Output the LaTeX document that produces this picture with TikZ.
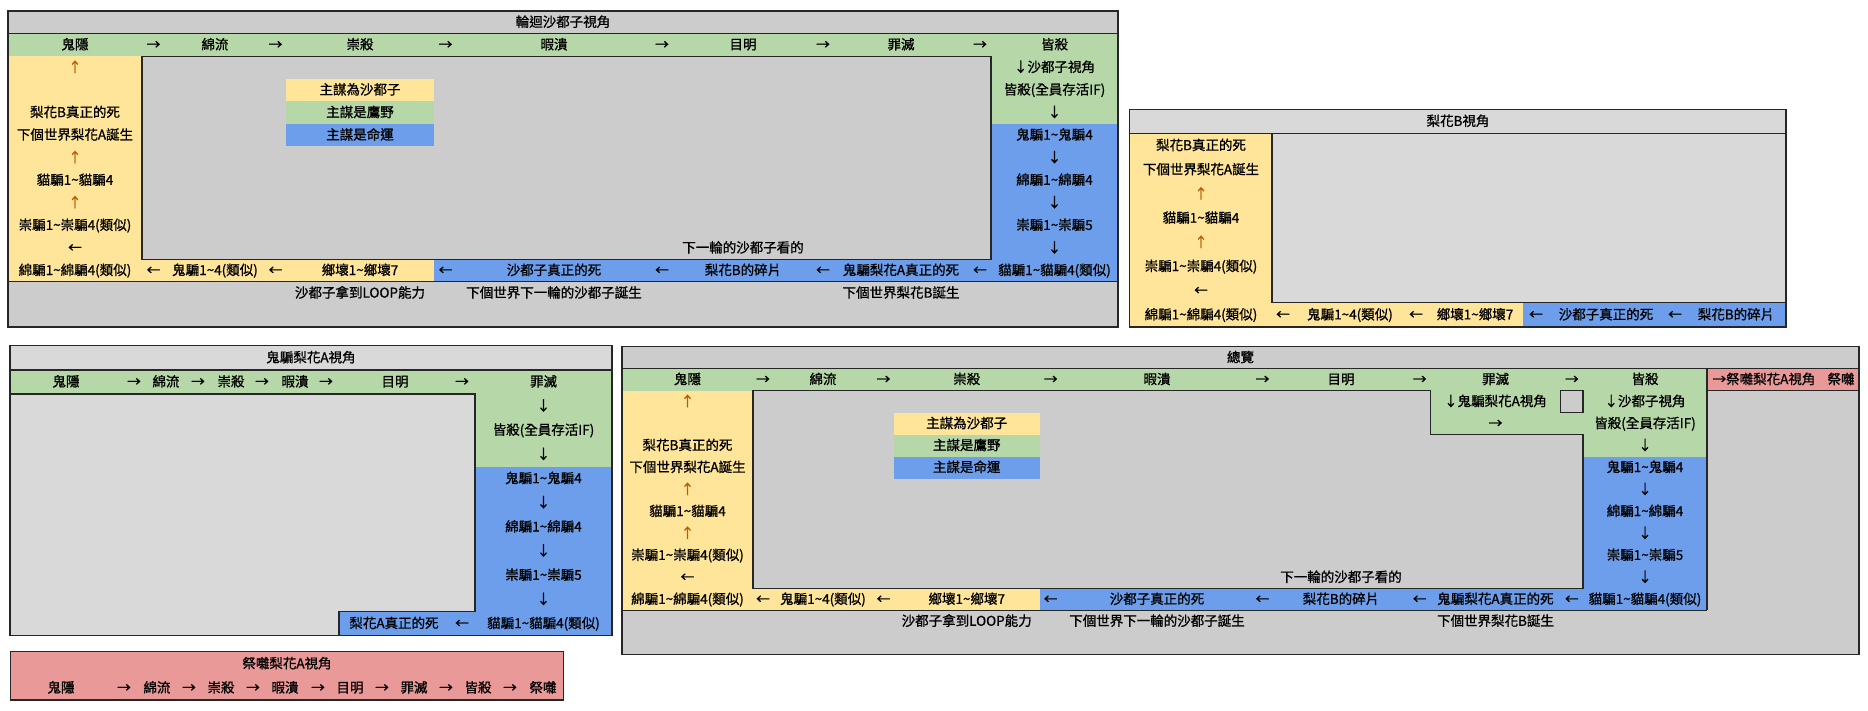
\documentclass[tikz,border=0pt]{standalone}
\usepackage{fontspec}
\setmainfont{Noto Sans CJK TC}[RawFeature={embolden=1.0}]
\usepackage{xcolor}
\usepackage{tikz}
\definecolor{cellyellow}{HTML}{FFE599}
\definecolor{cellgreen}{HTML}{B6D7A8}
\definecolor{cellblue}{HTML}{6D9EEB}
\definecolor{cellred}{HTML}{EA9999}
\definecolor{cellgray}{HTML}{CCCCCC}
\definecolor{celllight}{HTML}{D9D9D9}
\definecolor{arrowbrown}{HTML}{B45F06}
\newcommand{\tld}{\textasciitilde}

\begin{document}
\begin{tikzpicture}[x=1pt,y=-1pt,
  frame/.style={draw=black!85, line width=1.2pt},
  lbl/.style={inner sep=0pt, text height=10.5pt, text depth=1.5pt,
    font=\fontsize{13.5}{16}\selectfont},
  uparrow/.style={lbl, text=arrowbrown}]

\useasboundingbox (0,0) rectangle (1868,710);

% loop view
\fill[cellgray] (8,11) rectangle (1118,327);
\fill[cellgreen] (8,33.6) rectangle (1118,56.1);
\fill[cellgreen] (991,56.1) rectangle (1118,123.9);
\fill[cellblue] (991,123.9) rectangle (1118,281.8);
\fill[cellyellow] (8,56.1) rectangle (142,281.8);
\fill[cellyellow] (142,259.3) rectangle (434,281.8);
\fill[cellblue] (434,259.3) rectangle (991,281.8);
\fill[cellyellow] (286,78.7) rectangle (434,101.3);
\fill[cellgreen] (286,101.3) rectangle (434,123.9);
\fill[cellblue] (286,123.9) rectangle (434,146.4);
\draw[frame] (8,11) rectangle (1118,327);
\draw[frame] (8,33.6) -- (1118,33.6);
\draw[frame] (142,56.1) rectangle (991,259.3);
\draw[frame] (8,281.8) -- (1118,281.8);

\node[lbl] (lpT) at (563,22.3) {輪迴沙都子視角};
\node[lbl] (lpH1) at (75,44.9) {鬼隱};
\node[lbl] (lpH2) at (153.5,44.9) {→};
\node[lbl] (lpH3) at (215,44.9) {綿流};
\node[lbl] (lpH4) at (275.5,44.9) {→};
\node[lbl] (lpH5) at (360,44.9) {崇殺};
\node[lbl] (lpH6) at (445.5,44.9) {→};
\node[lbl] (lpH7) at (554,44.9) {暇潰};
\node[lbl] (lpH8) at (662,44.9) {→};
\node[lbl] (lpH9) at (743,44.9) {目明};
\node[lbl] (lpH10) at (823,44.9) {→};
\node[lbl] (lpH11) at (901,44.9) {罪滅};
\node[lbl] (lpH12) at (980,44.9) {→};
\node[lbl] (lpH13) at (1054.5,44.9) {皆殺};

\node[uparrow] (lpA1) at (75,67.4) {↑};
\node[lbl] (lpA2) at (75,112.6) {梨花B真正的死};
\node[lbl] (lpA3) at (75,135.1) {下個世界梨花A誕生};
\node[uparrow] (lpA4) at (75,157.7) {↑};
\node[lbl] (lpA5) at (75,180.3) {貓騙1\tld{}貓騙4};
\node[uparrow] (lpA6) at (75,202.8) {↑};
\node[lbl] (lpA7) at (75,225.4) {崇騙1\tld{}崇騙4(類似)};
\node[lbl] (lpA8) at (75,248) {←};
\node[lbl] (lpA9) at (75,270.5) {綿騙1\tld{}綿騙4(類似)};

\node[lbl] (lpG1) at (1054.5,67.4) {↓沙都子視角};
\node[lbl] (lpG2) at (1054.5,90) {皆殺(全員存活IF)};
\node[lbl] (lpG3) at (1054.5,112.6) {↓};
\node[lbl] (lpG4) at (1054.5,135.1) {鬼騙1\tld{}鬼騙4};
\node[lbl] (lpG5) at (1054.5,157.7) {↓};
\node[lbl] (lpG6) at (1054.5,180.3) {綿騙1\tld{}綿騙4};
\node[lbl] (lpG7) at (1054.5,202.8) {↓};
\node[lbl] (lpG8) at (1054.5,225.4) {崇騙1\tld{}崇騙5};
\node[lbl] (lpG9) at (1054.5,248) {↓};

\node[lbl] (lpK1) at (360,90) {主謀為沙都子};
\node[lbl] (lpK2) at (360,112.6) {主謀是鷹野};
\node[lbl] (lpK3) at (360,135.1) {主謀是命運};
\node[lbl] (lpN) at (743,248) {下一輪的沙都子看的};

\node[lbl] (lpB1) at (153.5,270.5) {←};
\node[lbl] (lpB2) at (215,270.5) {鬼騙1\tld{}4(類似)};
\node[lbl] (lpB3) at (275.5,270.5) {←};
\node[lbl] (lpB4) at (360,270.5) {鄉壞1\tld{}鄉壞7};
\node[lbl] (lpB5) at (445.5,270.5) {←};
\node[lbl] (lpB6) at (554,270.5) {沙都子真正的死};
\node[lbl] (lpB7) at (662,270.5) {←};
\node[lbl] (lpB8) at (743,270.5) {梨花B的碎片};
\node[lbl] (lpB9) at (823,270.5) {←};
\node[lbl] (lpB10) at (901,270.5) {鬼騙梨花A真正的死};
\node[lbl] (lpB11) at (980,270.5) {←};
\node[lbl] (lpB12) at (1054.5,270.5) {貓騙1\tld{}貓騙4(類似)};

\node[lbl] (lpC1) at (360,293.1) {沙都子拿到LOOP能力};
\node[lbl] (lpC2) at (554,293.1) {下個世界下一輪的沙都子誕生};
\node[lbl] (lpC3) at (901,293.1) {下個世界梨花B誕生};

% rika B view
\fill[celllight] (1129.5,109.3) rectangle (1786,327);
\fill[cellyellow] (1129.5,133.5) rectangle (1272,327);
\fill[cellyellow] (1272,302.8) rectangle (1523,327);
\fill[cellblue] (1523,302.8) rectangle (1786,327);
\draw[frame] (1129.5,109.3) rectangle (1786,327);
\draw[frame] (1129.5,133.5) -- (1786,133.5);
\draw[frame] (1272,133.5) -- (1272,302.8) -- (1786,302.8);

\node[lbl] (rbT) at (1458,121.4) {梨花B視角};
\node[lbl] (rbA1) at (1201,145.6) {梨花B真正的死};
\node[lbl] (rbA2) at (1201,169.8) {下個世界梨花A誕生};
\node[uparrow] (rbA3) at (1201,194) {↑};
\node[lbl] (rbA4) at (1201,218.2) {貓騙1\tld{}貓騙4};
\node[uparrow] (rbA5) at (1201,242.4) {↑};
\node[lbl] (rbA6) at (1201,266.5) {崇騙1\tld{}崇騙4(類似)};
\node[lbl] (rbA7) at (1201,290.7) {←};
\node[lbl] (rbA8) at (1201,314.9) {綿騙1\tld{}綿騙4(類似)};
\node[lbl] (rbB1) at (1283,314.9) {←};
\node[lbl] (rbB2) at (1350,314.9) {鬼騙1\tld{}4(類似)};
\node[lbl] (rbB3) at (1416,314.9) {←};
\node[lbl] (rbB4) at (1475,314.9) {鄉壞1\tld{}鄉壞7};
\node[lbl] (rbB5) at (1536,314.9) {←};
\node[lbl] (rbB6) at (1606,314.9) {沙都子真正的死};
\node[lbl] (rbB7) at (1675,314.9) {←};
\node[lbl] (rbB8) at (1736,314.9) {梨花B的碎片};

% rika A view
\fill[celllight] (10,345.7) rectangle (612,635.7);
\fill[cellgreen] (10,369.9) rectangle (612,394);
\fill[cellgreen] (475,394) rectangle (612,466.5);
\fill[cellblue] (475,466.5) rectangle (612,635.7);
\fill[cellblue] (339,611.5) rectangle (475,635.7);
\draw[frame] (10,345.7) rectangle (612,635.7);
\draw[frame] (10,369.9) -- (612,369.9);
\draw[frame] (10,394) -- (475,394) -- (475,611.5) -- (339,611.5) -- (339,635.7);

\node[lbl] (raT) at (311,357.8) {鬼騙梨花A視角};
\node[lbl] (raH1) at (66,382) {鬼隱};
\node[lbl] (raH2) at (134,382) {→};
\node[lbl] (raH3) at (166,382) {綿流};
\node[lbl] (raH4) at (198,382) {→};
\node[lbl] (raH5) at (231,382) {崇殺};
\node[lbl] (raH6) at (262,382) {→};
\node[lbl] (raH7) at (295,382) {暇潰};
\node[lbl] (raH8) at (326,382) {→};
\node[lbl] (raH9) at (395,382) {目明};
\node[lbl] (raH10) at (462,382) {→};
\node[lbl] (raH11) at (543.5,382) {罪滅};
\node[lbl] (raG1) at (543.5,406.1) {↓};
\node[lbl] (raG2) at (543.5,430.3) {皆殺(全員存活IF)};
\node[lbl] (raG3) at (543.5,454.5) {↓};
\node[lbl] (raG4) at (543.5,478.6) {鬼騙1\tld{}鬼騙4};
\node[lbl] (raG5) at (543.5,502.8) {↓};
\node[lbl] (raG6) at (543.5,527) {綿騙1\tld{}綿騙4};
\node[lbl] (raG7) at (543.5,551.1) {↓};
\node[lbl] (raG8) at (543.5,575.3) {崇騙1\tld{}崇騙5};
\node[lbl] (raG9) at (543.5,599.5) {↓};
\node[lbl] (raG10) at (543.5,623.6) {貓騙1\tld{}貓騙4(類似)};
\node[lbl] (raB1) at (462,623.6) {←};
\node[lbl] (raB2) at (394,623.6) {梨花A真正的死};

% matsuri view
\draw[frame,fill=cellred] (10.7,651.7) rectangle (563.5,700);
\node[lbl] (mtT) at (287,663.8) {祭囃梨花A視角};
\node[lbl] (mtH1) at (61,688) {鬼隱};
\node[lbl] (mtH2) at (124,688) {→};
\node[lbl] (mtH3) at (157,688) {綿流};
\node[lbl] (mtH4) at (189,688) {→};
\node[lbl] (mtH5) at (221,688) {崇殺};
\node[lbl] (mtH6) at (253,688) {→};
\node[lbl] (mtH7) at (285,688) {暇潰};
\node[lbl] (mtH8) at (318,688) {→};
\node[lbl] (mtH9) at (350,688) {目明};
\node[lbl] (mtH10) at (382,688) {→};
\node[lbl] (mtH11) at (414,688) {罪滅};
\node[lbl] (mtH12) at (446,688) {→};
\node[lbl] (mtH13) at (478,688) {皆殺};
\node[lbl] (mtH14) at (510,688) {→};
\node[lbl] (mtH15) at (543,688) {祭囃};

% overview
\fill[cellgray] (622,346.7) rectangle (1859,654.3);
\fill[cellgreen] (622,368.7) rectangle (1707,390.6);
\fill[cellred] (1707,368.7) rectangle (1859,390.6);
\fill[cellgreen] (1430.5,390.6) rectangle (1583,434.6);
\fill[cellgreen] (1583,390.6) rectangle (1707,456.5);
\fill[cellblue] (1583,456.5) rectangle (1707,610.3);
\fill[cellyellow] (622,390.6) rectangle (753,610.3);
\fill[cellyellow] (753,588.4) rectangle (1039.5,610.3);
\fill[cellblue] (1039.5,588.4) rectangle (1583,610.3);
\fill[cellyellow] (894,412.6) rectangle (1039.5,434.6);
\fill[cellgreen] (894,434.6) rectangle (1039.5,456.5);
\fill[cellblue] (894,456.5) rectangle (1039.5,478.5);
\draw[frame,fill=cellgray] (1560.6,390.6) rectangle (1583,412.6);
\draw[frame] (622,346.7) rectangle (1859,654.3);
\draw[frame] (622,368.7) -- (1859,368.7);
\draw[frame] (1707,390.6) -- (1859,390.6);
\draw[frame] (1707,368.7) -- (1707,610.3);
\draw[frame] (622,610.3) -- (1707,610.3);
\draw[frame] (753,390.6) -- (1430.5,390.6) -- (1430.5,434.6) -- (1583,434.6)
  -- (1583,588.4) -- (753,588.4) -- cycle;

\node[lbl] (ovT) at (1240.5,357.7) {總覽};
\node[lbl] (ovH1) at (687.5,379.6) {鬼隱};
\node[lbl] (ovH2) at (763,379.6) {→};
\node[lbl] (ovH3) at (823,379.6) {綿流};
\node[lbl] (ovH4) at (883.5,379.6) {→};
\node[lbl] (ovH5) at (966.7,379.6) {崇殺};
\node[lbl] (ovH6) at (1050.7,379.6) {→};
\node[lbl] (ovH7) at (1157,379.6) {暇潰};
\node[lbl] (ovH8) at (1262.5,379.6) {→};
\node[lbl] (ovH9) at (1341,379.6) {目明};
\node[lbl] (ovH10) at (1419.7,379.6) {→};
\node[lbl] (ovH11) at (1495.5,379.6) {罪滅};
\node[lbl] (ovH12) at (1571.8,379.6) {→};
\node[lbl] (ovH13) at (1645,379.6) {皆殺};
\node[lbl] (ovH14) at (1764,379.6) {→祭囃梨花A視角};
\node[lbl] (ovH15) at (1841,379.6) {祭囃};

\node[lbl] (ovF1) at (1495.5,401.6) {↓鬼騙梨花A視角};
\node[lbl] (ovF2) at (1495.5,423.6) {→};

\node[uparrow] (ovA1) at (687.5,401.6) {↑};
\node[lbl] (ovA2) at (687.5,445.6) {梨花B真正的死};
\node[lbl] (ovA3) at (687.5,467.5) {下個世界梨花A誕生};
\node[uparrow] (ovA4) at (687.5,489.5) {↑};
\node[lbl] (ovA5) at (687.5,511.5) {貓騙1\tld{}貓騙4};
\node[uparrow] (ovA6) at (687.5,533.4) {↑};
\node[lbl] (ovA7) at (687.5,555.4) {崇騙1\tld{}崇騙4(類似)};
\node[lbl] (ovA8) at (687.5,577.4) {←};
\node[lbl] (ovA9) at (687.5,599.4) {綿騙1\tld{}綿騙4(類似)};

\node[lbl] (ovG1) at (1645,401.6) {↓沙都子視角};
\node[lbl] (ovG2) at (1645,423.6) {皆殺(全員存活IF)};
\node[lbl] (ovG3) at (1645,445.6) {↓};
\node[lbl] (ovG4) at (1645,467.5) {鬼騙1\tld{}鬼騙4};
\node[lbl] (ovG5) at (1645,489.5) {↓};
\node[lbl] (ovG6) at (1645,511.5) {綿騙1\tld{}綿騙4};
\node[lbl] (ovG7) at (1645,533.4) {↓};
\node[lbl] (ovG8) at (1645,555.4) {崇騙1\tld{}崇騙5};
\node[lbl] (ovG9) at (1645,577.4) {↓};

\node[lbl] (ovK1) at (966.7,423.6) {主謀為沙都子};
\node[lbl] (ovK2) at (966.7,445.6) {主謀是鷹野};
\node[lbl] (ovK3) at (966.7,467.5) {主謀是命運};
\node[lbl] (ovN) at (1341,577.4) {下一輪的沙都子看的};

\node[lbl] (ovB1) at (763,599.4) {←};
\node[lbl] (ovB2) at (823,599.4) {鬼騙1\tld{}4(類似)};
\node[lbl] (ovB3) at (883.5,599.4) {←};
\node[lbl] (ovB4) at (966.7,599.4) {鄉壞1\tld{}鄉壞7};
\node[lbl] (ovB5) at (1050.7,599.4) {←};
\node[lbl] (ovB6) at (1157,599.4) {沙都子真正的死};
\node[lbl] (ovB7) at (1262.5,599.4) {←};
\node[lbl] (ovB8) at (1341,599.4) {梨花B的碎片};
\node[lbl] (ovB9) at (1419.7,599.4) {←};
\node[lbl] (ovB10) at (1495.5,599.4) {鬼騙梨花A真正的死};
\node[lbl] (ovB11) at (1571.8,599.4) {←};
\node[lbl] (ovB12) at (1645,599.4) {貓騙1\tld{}貓騙4(類似)};

\node[lbl] (ovC1) at (966.7,621.3) {沙都子拿到LOOP能力};
\node[lbl] (ovC2) at (1157,621.3) {下個世界下一輪的沙都子誕生};
\node[lbl] (ovC3) at (1495.5,621.3) {下個世界梨花B誕生};

\end{tikzpicture}
\end{document}
